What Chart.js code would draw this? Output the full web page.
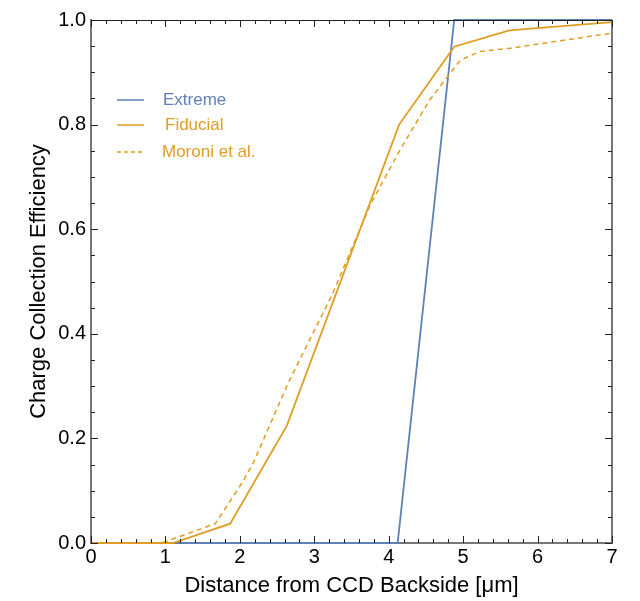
<!DOCTYPE html>
<html>
<head>
<meta charset="utf-8">
<script src="https://cdn.jsdelivr.net/npm/chart.js@4.4.1/dist/chart.umd.min.js"></script>
<style>
  body { margin: 0; background: #fff; }
  #wrap { width: 640px; height: 601px; }
</style>
</head>
<body>
<div id="wrap"><canvas id="cceChart" width="640" height="601"></canvas></div>
<script>
// values
const extremeX = [0, 4.12, 4.88, 7]
const extremeY = [0, 0, 1, 1]

const fiducialX = [0, 1.1, 1.87, 2.63, 4.14, 4.88, 5.62, 7]
const fiducialY = [0, 0, 0.037, 0.224, 0.80, 0.949, 0.98, 0.996]

const moroniX = [0, 0.95, 1.67, 2.03, 2.18, 2.65, 3.25, 3.75, 4.15, 4.55, 4.96, 5.23, 5.63, 7]
const moroniY = [0, 0, 0.037, 0.115, 0.153, 0.306, 0.478, 0.646, 0.751, 0.847, 0.923, 0.94, 0.946, 0.975]

const xTicks = [0, 1, 2, 3, 4, 5, 6, 7]
const yTicks = [0, 0.2, 0.4, 0.6, 0.8, 1.0]

const blue = 'rgb(94,129,181)'
const orange = 'rgb(225,156,36)'
const fontFam = '"Liberation Sans", Arial, sans-serif'

function toPoints(xs, ys) {
    return xs.map(function(x, i) { return { x: x, y: ys[i] } })
}

// inward ticks, frame and legend
const framePlugin = {
    id: 'frame',
    afterDraw(chart) {
        const ctx = chart.ctx
        const a = chart.chartArea
        const xs = chart.scales.x
        const ys = chart.scales.y
        ctx.save()
        // top frame
        ctx.strokeStyle = '#222'
        ctx.lineWidth = 1
        ctx.beginPath()
        ctx.moveTo(a.left, a.top + 0.5)
        ctx.lineTo(a.right, a.top + 0.5)
        ctx.stroke()
        // right frame
        ctx.strokeStyle = '#777'
        ctx.lineWidth = 2
        ctx.beginPath()
        ctx.moveTo(a.right, a.top)
        ctx.lineTo(a.right, a.bottom)
        ctx.stroke()

        ctx.strokeStyle = '#222'
        ctx.lineWidth = 1
        for (let i = 0; i <= 35; i++) {
            const v = i * 0.2
            const px = Math.round(xs.getPixelForValue(v)) + 0.5
            const len = (i % 5 == 0) ? 7 : 4
            ctx.beginPath()
            ctx.moveTo(px, a.bottom)
            ctx.lineTo(px, a.bottom - len)
            ctx.moveTo(px, a.top)
            ctx.lineTo(px, a.top + len)
            ctx.stroke()
        }
        for (let i = 0; i <= 20; i++) {
            const v = i * 0.05
            const py = Math.round(ys.getPixelForValue(v)) + 0.5
            const len = (i % 4 == 0) ? 7 : 4
            ctx.beginPath()
            ctx.moveTo(a.left, py)
            ctx.lineTo(a.left + len, py)
            ctx.moveTo(a.right, py)
            ctx.lineTo(a.right - len, py)
            ctx.stroke()
        }

        // legend
        const items = [
            { label: 'Extreme', color: blue, dash: [], y: 100, tx: 163 },
            { label: 'Fiducial', color: orange, dash: [], y: 125, tx: 165 },
            { label: 'Moroni et al.', color: orange, dash: [4, 3], y: 152, tx: 162 }
        ]
        ctx.font = '17px ' + fontFam
        ctx.textBaseline = 'middle'
        items.forEach(function(it) {
            ctx.strokeStyle = it.color
            ctx.lineWidth = 1.5
            ctx.setLineDash(it.dash)
            ctx.beginPath()
            ctx.moveTo(117, it.y)
            ctx.lineTo(144, it.y)
            ctx.stroke()
            ctx.setLineDash([])
            ctx.fillStyle = it.color
            ctx.fillText(it.label, it.tx, it.y)
        })
        ctx.restore()
    }
}

new Chart(document.getElementById('cceChart'), {
    type: 'line',
    data: {
        datasets: [
            {
                label: 'Extreme',
                data: toPoints(extremeX, extremeY),
                borderColor: blue,
                borderWidth: 1.8,
                pointRadius: 0,
                tension: 0,
                order: 3,
                clip: 3
            },
            {
                label: 'Fiducial',
                data: toPoints(fiducialX, fiducialY),
                borderColor: orange,
                borderWidth: 1.8,
                pointRadius: 0,
                tension: 0,
                order: 1,
                clip: 3
            },
            {
                label: 'Moroni et al.',
                data: toPoints(moroniX, moroniY),
                borderColor: orange,
                borderWidth: 1.5,
                borderDash: [5, 4],
                pointRadius: 0,
                tension: 0,
                order: 2,
                clip: 3
            }
        ]
    },
    options: {
        responsive: false,
        animation: false,
        layout: { padding: { top: 20, right: 28, left: 26, bottom: 2 } },
        plugins: {
            legend: { display: false },
            tooltip: { enabled: false }
        },
        scales: {
            x: {
                type: 'linear',
                min: 0,
                max: 7,
                afterBuildTicks(scale) { scale.ticks = xTicks.map(function(v) { return { value: v } }) },
                afterFit(scale) { scale.height = 56 },
                grid: { display: false },
                border: { display: true, color: '#777', width: 2 },
                ticks: {
                    color: '#000',
                    padding: -6,
                    font: { family: fontFam, size: 20 },
                    callback: function(v) { return String(v) }
                },
                title: {
                    display: true,
                    text: 'Distance from CCD Backside [\u03bcm]',
                    color: '#000',
                    font: { family: fontFam, size: 22 },
                    padding: { top: 0, bottom: 0 }
                }
            },
            y: {
                type: 'linear',
                min: 0,
                max: 1,
                afterBuildTicks(scale) { scale.ticks = yTicks.map(function(v) { return { value: v } }) },
                afterFit(scale) { scale.width = 65 },
                grid: { display: false },
                border: { display: true, color: '#777', width: 2 },
                ticks: {
                    color: '#000',
                    padding: -3,
                    font: { family: fontFam, size: 20 },
                    callback: function(v) { return v.toFixed(1) }
                },
                title: {
                    display: true,
                    text: 'Charge Collection Efficiency',
                    color: '#000',
                    font: { family: fontFam, size: 22 },
                    padding: { top: 0, bottom: 0 }
                }
            }
        }
    },
    plugins: [framePlugin]
})
</script>
</body>
</html>
